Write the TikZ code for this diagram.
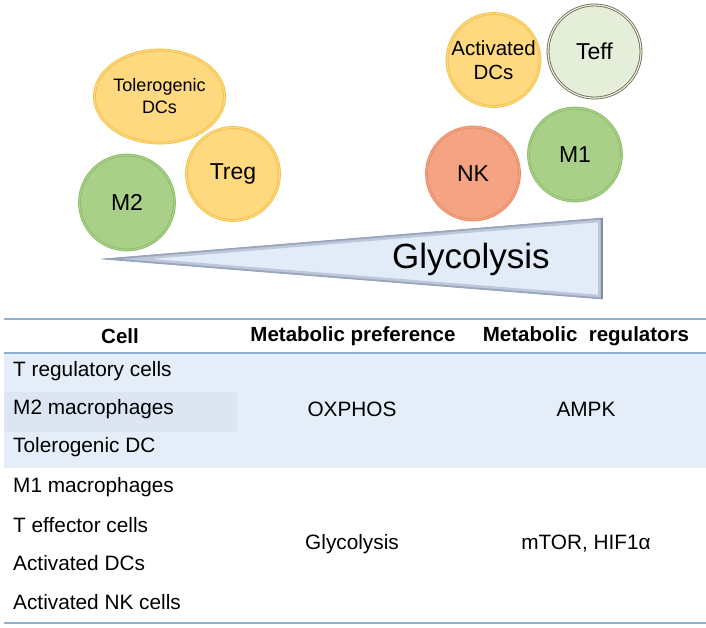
\documentclass[tikz,border=0pt]{standalone}
\usepackage{fontspec}
\setmainfont{Liberation Sans}
\usetikzlibrary{shapes.geometric}
\definecolor{yelfill}{HTML}{FFD980}
\definecolor{yeldraw}{HTML}{F2BF45}
\definecolor{grnfill}{HTML}{A9CF88}
\definecolor{grndraw}{HTML}{8ABD68}
\definecolor{nkfill}{HTML}{F4A383}
\definecolor{nkdraw}{HTML}{E68A64}
\definecolor{tefffill}{HTML}{E4EED8}
\definecolor{teffdraw}{HTML}{6F6558}
\definecolor{wedgedark}{HTML}{4E5B78}
\definecolor{wedgemid}{HTML}{AEB9D0}
\definecolor{wedgelight}{HTML}{E2ECF8}
\definecolor{wedgeedge}{HTML}{7A88A6}
\definecolor{rulecol}{HTML}{8CB0D2}
\definecolor{bandcol}{HTML}{E4EDF8}
\definecolor{banddark}{HTML}{DCE5F1}
\pgfdeclarehorizontalshading{wedgeshade}{100bp}{color(0bp)=(wedgedark); color(8bp)=(wedgemid); color(30bp)=(wedgelight); color(100bp)=(wedgelight)}
\begin{document}
\begin{tikzpicture}[x=1pt,y=-1pt,
  cellc/.style={circle, draw=#1draw, fill=#1fill, double=#1fill, double distance=1.2pt, line width=0.8pt, minimum size=93pt, inner sep=0pt, align=center, font=\fontsize{23}{25}\selectfont},
  hdr/.style={font=\fontsize{20.5}{22}\selectfont\bfseries},
  body/.style={font=\fontsize{20.8}{22}\selectfont, inner sep=0pt},
  rule/.style={draw=rulecol, line width=1.5pt}]
\useasboundingbox (0,0) rectangle (706,627);

% cells
\node[cellc=yel, shape=ellipse, minimum width=105pt, minimum height=93pt, font=\fontsize{18}{22}\selectfont] (tol) at (159.5,96.5) {Tolerogenic\\DCs};
\node[cellc=yel] (treg) at (233,174) {Treg};
\node[cellc=grn, minimum height=95pt] (m2) at (127,202.5) {M2};
\node[cellc=yel, font=\fontsize{20.5}{24}\selectfont] (adc) at (493.5,60) {Activated\\DCs};
\node[cellc=teff, draw=teffdraw] (teff) at (594.5,51.5) {Teff};
\node[cellc=nk] (nk) at (473,173.5) {NK};
\node[cellc=grn] (m1) at (575,154.5) {M1};

% wedge
\shade[shading=wedgeshade] (102,259) -- (602,218) -- (602,299) -- cycle;
\begin{scope}
  \clip (102,259) -- (602,218) -- (602,299) -- cycle;
  \draw[wedgeedge, opacity=0.35, line width=8pt, line join=round] (102,259) -- (602,218) -- (602,299) -- cycle;
  \draw[wedgeedge, opacity=0.5, line width=3pt, line join=round] (102,259) -- (602,218) -- (602,299) -- cycle;
\end{scope}
\draw[wedgeedge!80, line width=0.6pt, line join=round] (102,259) -- (602,218) -- (602,299) -- cycle;
\draw[wedgedark!70, line width=1.4pt] (602,218) -- (602,299);
\node[font=\fontsize{35}{38}\selectfont, inner sep=0pt] (gly) at (471,259) {Glycolysis};

% table background
\fill[bandcol] (4,353) rectangle (706,468);
\fill[banddark] (4,392) rectangle (237,432);
\draw[rule] (4,319) -- (706,319);
\draw[rule] (4,353) -- (706,353);
\draw[rule] (4,623) -- (706,623);

% header
\node[hdr] (hcell) at (120,336) {Cell};
\node[hdr] (hpref) at (353,336) {Metabolic preference};
\node[hdr] (hreg) at (586,336) {Metabolic\ \ regulators};

% rows
\node[body, anchor=west] (r1) at (13,371) {T regulatory cells};
\node[body, anchor=west] (r2) at (13,409) {M2 macrophages};
\node[body, anchor=west] (r3) at (13,447) {Tolerogenic DC};
\node[body, anchor=west] (r4) at (13,487) {M1 macrophages};
\node[body, anchor=west] (r5) at (13,525) {T effector cells};
\node[body, anchor=west] (r6) at (13,563) {Activated DCs};
\node[body, anchor=west] (r7) at (13,602) {Activated NK cells};

\node[body] (ox) at (352,409) {OXPHOS};
\node[body] (ampk) at (586,409) {AMPK};
\node[body] (glyc) at (352,544) {Glycolysis};
\node[body] (mtor) at (586,544) {mTOR, HIF1α};
\end{tikzpicture}
\end{document}
